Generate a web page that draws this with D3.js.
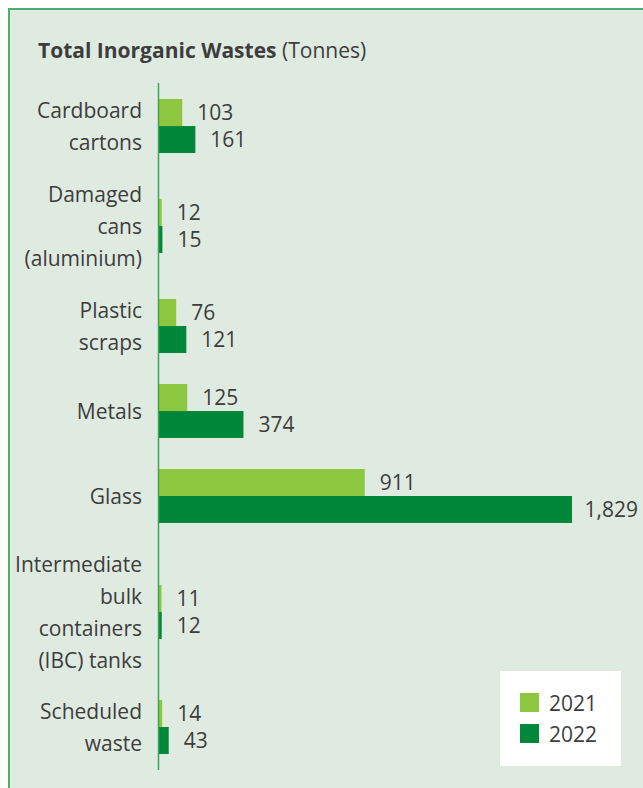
<!DOCTYPE html>
<html>
<head>
<meta charset="utf-8">
<script src="https://cdn.jsdelivr.net/npm/d3@7"></script>
<style>
  body { margin: 0; background: #ffffff; }
  svg { display: block; }
</style>
</head>
<body>
<div id="chart"></div>
<script>
const width = 643;
const height = 788;

// data
const categories = ['Cardboard cartons', 'Damaged cans (aluminium)', 'Plastic scraps', 'Metals', 'Glass', 'Intermediate bulk containers (IBC) tanks', 'Scheduled waste'];
const labelLines = [
    ['Cardboard', 'cartons'],
    ['Damaged', 'cans', '(aluminium)'],
    ['Plastic', 'scraps'],
    ['Metals'],
    ['Glass'],
    ['Intermediate', 'bulk', 'containers', '(IBC) tanks'],
    ['Scheduled', 'waste'],
];
const years = ['2021', '2022'];
const values2021 = [103, 12, 76, 125, 911, 11, 14];
const values2022 = [161, 15, 121, 374, 1829, 12, 43];

// layout
const rowCenters = [126, 226, 326, 411, 496, 612, 727];
const axisX = 159;
const barH = 27;
const textColor = '#3d3d3d';
const font = "'Open Sans', sans-serif";

const svg = d3.select('#chart')
    .append('svg')
    .attr('width', width)
    .attr('height', height);

// panel
svg.append('rect')
    .attr('x', 9)
    .attr('y', 9)
    .attr('width', width + 10)
    .attr('height', height + 10)
    .attr('fill', '#dfeae1')
    .attr('stroke', '#4caf6b')
    .attr('stroke-width', 2);

const x = d3.scaleLinear()
    .domain([0, 1829])
    .range([axisX, 572]);

const y = d3.scaleOrdinal()
    .domain(categories)
    .range(rowCenters);

const color = d3.scaleOrdinal()
    .domain(years)
    .range(['#8dc63f', '#00873a']);

const rows = categories.map((c, i) => ({
    cat: c,
    lines: labelLines[i],
    vals: [values2021[i], values2022[i]],
}));

// bars
const groups = svg.selectAll('.row')
    .data(rows)
    .enter()
    .append('g')
    .attr('class', 'row');

groups.selectAll('rect')
    .data((d) => d.vals.map((v, k) => ({ cat: d.cat, year: years[k], v: v, k: k })))
    .enter()
    .append('rect')
    .attr('x', axisX)
    .attr('y', (d) => y(d.cat) - barH + d.k * barH)
    .attr('width', (d) => x(d.v) - axisX)
    .attr('height', barH)
    .attr('fill', (d) => color(d.year));

groups.selectAll('text.val')
    .data((d) => d.vals.map((v, k) => ({ cat: d.cat, v: v, k: k })))
    .enter()
    .append('text')
    .attr('class', 'val')
    .attr('y', (d) => y(d.cat) - barH / 2 + d.k * barH)
    .attr('dy', '0.38em')
    .text((d) => d3.format(',')(d.v))
    .style('font-family', font)
    .style('font-size', '21px')
    .style('fill', textColor)
    .attr('x', function (d) {
        const w = this.getComputedTextLength();
        return Math.min(x(d.v) + 15, width - 5 - w);
    });

// category labels
groups.append('text')
    .attr('text-anchor', 'end')
    .style('font-family', font)
    .style('font-size', '21px')
    .style('fill', textColor)
    .each(function (d) {
        const n = d.lines.length;
        d3.select(this).selectAll('tspan')
            .data(d.lines)
            .enter()
            .append('tspan')
            .attr('x', 142)
            .attr('y', (l, j) => y(d.cat) + (j - (n - 1) / 2) * 32)
            .attr('dy', '0.36em')
            .text((l) => l);
    });

// axis line
svg.append('line')
    .attr('x1', axisX - 0.5)
    .attr('x2', axisX - 0.5)
    .attr('y1', 83)
    .attr('y2', 770)
    .attr('stroke', '#3da35d')
    .attr('stroke-width', 1.5);

// title
const title = svg.append('text')
    .attr('x', 38)
    .attr('y', 58)
    .style('font-family', font)
    .style('font-size', '21px')
    .style('fill', textColor);
title.append('tspan').style('font-weight', 'bold').text('Total Inorganic Wastes');
title.append('tspan').text(' (Tonnes)');

// legend
const legend = svg.append('g')
    .attr('transform', 'translate(500,671)');
legend.append('rect')
    .attr('width', 121)
    .attr('height', 95)
    .attr('fill', '#ffffff');
const items = legend.selectAll('.item')
    .data(years)
    .enter()
    .append('g')
    .attr('class', 'item')
    .attr('transform', (d, i) => `translate(20,${22 + i * 31})`);
items.append('rect')
    .attr('width', 19)
    .attr('height', 19)
    .attr('fill', (d) => color(d));
items.append('text')
    .attr('x', 29)
    .attr('y', 10)
    .attr('dy', '0.36em')
    .text((d) => d)
    .style('font-family', font)
    .style('font-size', '21px')
    .style('fill', textColor);
</script>
</body>
</html>
